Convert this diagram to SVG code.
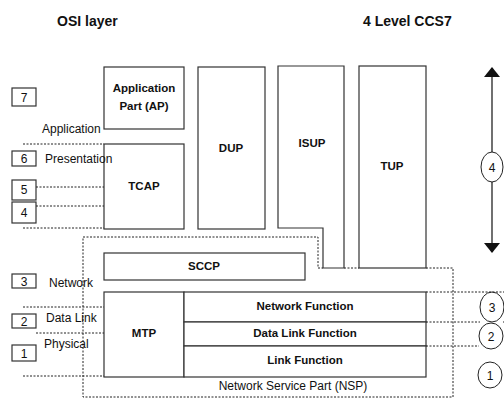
<svg xmlns="http://www.w3.org/2000/svg" width="504" height="403" viewBox="0 0 504 403">
  <style>
    .box { fill: #fff; stroke: #333; stroke-width: 1.2; }
    .dot { fill: none; stroke: #222; stroke-width: 1; stroke-dasharray: 2 1.5; }
    .lbl { font-family: "Liberation Sans", Arial, sans-serif; font-size: 12px; fill: #111; }
    .bold { font-family: "Liberation Sans", Arial, sans-serif; font-size: 11.5px; font-weight: bold; fill: #111; text-anchor: middle; }
    .title { font-family: "Liberation Sans", Arial, sans-serif; font-size: 14px; font-weight: bold; fill: #111; }
    .num { font-family: "Liberation Sans", Arial, sans-serif; font-size: 12px; fill: #111; text-anchor: middle; }
    .ring { fill: #fff; stroke: #222; stroke-width: 1; }
  </style>
  <defs>
    <marker id="head" viewBox="0 0 10 16" refX="9" refY="8" markerWidth="10" markerHeight="16" markerUnits="userSpaceOnUse" orient="auto">
      <path d="M0,0 L10,8 L0,16 Z" fill="#111"/>
    </marker>
  </defs>
  <rect width="504" height="403" fill="#fff"/>

  <!-- headings -->
  <text class="title" x="57" y="26">OSI layer</text>
  <text class="title" x="363" y="26">4 Level CCS7</text>

  <!-- OSI layer numbers -->
  <g id="osi-7"><rect class="box" x="12" y="88" width="24" height="18"/><text class="num" x="24" y="102">7</text></g>
  <g id="osi-6"><rect class="box" x="12" y="151" width="24" height="15"/><text class="num" x="24" y="163">6</text></g>
  <g id="osi-5"><rect class="box" x="12" y="180" width="24" height="20"/><text class="num" x="24" y="194">5</text></g>
  <g id="osi-4"><rect class="box" x="12" y="202" width="24" height="21"/><text class="num" x="24" y="217">4</text></g>
  <g id="osi-3"><rect class="box" x="12" y="274" width="24" height="14"/><text class="num" x="24" y="286">3</text></g>
  <g id="osi-2"><rect class="box" x="12" y="314" width="24" height="14"/><text class="num" x="24" y="326">2</text></g>
  <g id="osi-1"><rect class="box" x="12" y="345" width="24" height="16"/><text class="num" x="24" y="358">1</text></g>

  <!-- CCS7 blocks -->
  <g id="ap"><rect class="box" x="104" y="67" width="80" height="62"/>
    <text class="bold" x="144" y="92">Application</text><text class="bold" x="144" y="110">Part (AP)</text></g>
  <g id="tcap"><rect class="box" x="104" y="144" width="80" height="85"/><text class="bold" x="144" y="190">TCAP</text></g>
  <g id="dup"><rect class="box" x="198" y="67" width="67" height="162"/><text class="bold" x="231" y="152">DUP</text></g>
  <g id="isup"><path class="box" d="M278,66 H344 V268 H323 V228 H278 Z"/><text class="bold" x="312" y="147">ISUP</text></g>
  <g id="tup"><rect class="box" x="359" y="66" width="67" height="202"/><text class="bold" x="392" y="170">TUP</text></g>
  <g id="sccp"><rect class="box" x="104" y="253" width="201" height="27"/><text class="bold" x="204" y="270">SCCP</text></g>
  <g id="mtp"><rect class="box" x="104" y="292" width="80" height="85"/><text class="bold" x="144" y="337">MTP</text></g>
  <g id="network-function"><rect class="box" x="184" y="292" width="242" height="30"/><text class="bold" x="305" y="310">Network Function</text></g>
  <g id="data-link-function"><rect class="box" x="184" y="322" width="242" height="24"/><text class="bold" x="305" y="337">Data Link Function</text></g>
  <g id="link-function"><rect class="box" x="184" y="346" width="242" height="31"/><text class="bold" x="305" y="364">Link Function</text></g>
  <g id="nsp"><text class="lbl" x="293" y="390" text-anchor="middle">Network Service Part (NSP)</text></g>

  <!-- CCS7 level markers -->
  <g id="level-4"><ellipse class="ring" cx="492" cy="167" rx="11" ry="15"/><text class="num" x="492" y="172">4</text></g>
  <g id="level-3"><ellipse class="ring" cx="492" cy="307" rx="12" ry="15"/><text class="num" x="492" y="312">3</text></g>
  <g id="level-2"><ellipse class="ring" cx="491" cy="336" rx="12" ry="13"/><text class="num" x="491" y="341">2</text></g>
  <g id="level-1"><ellipse class="ring" cx="490" cy="375" rx="12" ry="13"/><text class="num" x="490" y="380">1</text></g>

  <!-- dotted layer boundaries, NSP outline and level-4 span arrow -->
  <g id="connectors">
    <path class="dot" d="M23,144 H104"/>
    <path class="dot" d="M36,187 H104"/>
    <path class="dot" d="M36,206 H104"/>
    <path class="dot" d="M23,228 H104"/>
    <path class="dot" d="M23,307 H104"/>
    <path class="dot" d="M36,333 H104"/>
    <path class="dot" d="M23,376 H104"/>
    <path class="dot" d="M426,292 H504"/>
    <path class="dot" d="M426,322 H480 M503,322 H504"/>
    <path class="dot" d="M426,346 H479"/>
    <path class="dot" d="M83,237 H318 V268 H323 M344,268 H359 M426,268 H453 V397 H83 V237"/>
    <line x1="492" y1="152" x2="492" y2="68" stroke="#111" stroke-width="1.2" marker-end="url(#head)"/>
    <line x1="492" y1="182" x2="492" y2="252" stroke="#111" stroke-width="1.2" marker-end="url(#head)"/>
  </g>

  <!-- OSI layer names -->
  <g id="osi-names">
    <text class="lbl" x="42" y="133">Application</text>
    <text class="lbl" x="45" y="163">Presentation</text>
    <text class="lbl" x="49" y="287">Network</text>
    <text class="lbl" x="46" y="322">Data Link</text>
    <text class="lbl" x="44" y="348">Physical</text>
  </g>
</svg>
